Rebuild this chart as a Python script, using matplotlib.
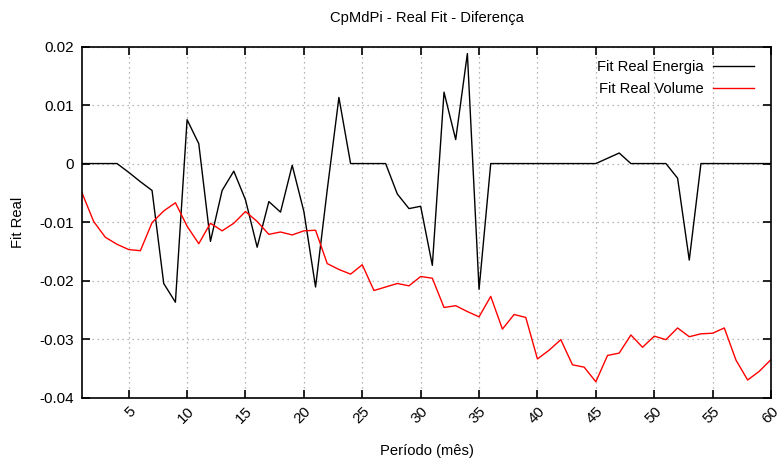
import matplotlib
matplotlib.use("Agg")
import matplotlib.pyplot as plt
import numpy as np

plt.rcParams['font.family'] = ['Liberation Sans', 'DejaVu Sans']

periodo = list(range(1, 61))
energia = [0, 0, 0, 0, -0.0015, -0.0031, -0.0046, -0.0205, -0.0237, 0.0075,
           0.0034, -0.0133, -0.0046, -0.0013, -0.0062, -0.0143, -0.0065, -0.0083, -0.0003, -0.0082,
           -0.0211, -0.0045, 0.0113, 0, 0, 0, 0, -0.0052, -0.0077, -0.0073,
           -0.0174, 0.0122, 0.0041, 0.0188, -0.0215, 0, 0, 0, 0, 0,
           0, 0, 0, 0, 0, 0.0009, 0.0018, 0, 0, 0,
           0, -0.0025, -0.0165, 0, 0, 0, 0, 0, 0, 0]
volume = [-0.0050, -0.0099, -0.0126, -0.0138, -0.0147, -0.0149, -0.0101, -0.0081, -0.0067, -0.0107,
          -0.0137, -0.0102, -0.0115, -0.0102, -0.0082, -0.0099, -0.0121, -0.0117, -0.0122, -0.0115,
          -0.0114, -0.0171, -0.0181, -0.0189, -0.0173, -0.0217, -0.0211, -0.0205, -0.0209, -0.0193,
          -0.0196, -0.0246, -0.0243, -0.0253, -0.0262, -0.0227, -0.0283, -0.0258, -0.0263, -0.0334,
          -0.0319, -0.0301, -0.0344, -0.0348, -0.0373, -0.0328, -0.0324, -0.0293, -0.0314, -0.0295,
          -0.0301, -0.0281, -0.0296, -0.0291, -0.0290, -0.0281, -0.0336, -0.0370, -0.0355, -0.0335]
xticks = list(range(5, 61, 5))
yticks = [-0.04, -0.03, -0.02, -0.01, 0, 0.01, 0.02]
ytick_labels = ["-0.04", "-0.03", "-0.02", "-0.01", "0", "0.01", "0.02"]

fig = plt.figure(figsize=(7.83, 4.65), dpi=100)
ax = fig.add_axes([0.1047, 0.145, 0.88, 0.7549])

ax.plot(periodo, energia, color='black', lw=1.0, label='Fit Real Energia')
ax.plot(periodo, volume, color='#ff0000', lw=1.0, label='Fit Real Volume')

ax.set_xlim(1, 60)
ax.set_ylim(-0.04, 0.02)
ax.set_xticks(xticks)
ax.set_xticklabels([str(t) for t in xticks], rotation=45, ha='right', rotation_mode='anchor', fontsize=11)
ax.set_yticks(yticks)
ax.set_yticklabels(ytick_labels, fontsize=11)
ax.tick_params(direction='in', top=True, right=True, length=6, width=1.2)
ax.tick_params(axis='y', pad=6)
ax.tick_params(axis='x', pad=5)
ax.grid(True, color='#a0a0a0', linestyle=(0, (1, 3)), lw=0.9)
for s in ax.spines.values():
    s.set_linewidth(1.2)

ax.set_title('CpMdPi - Real Fit - Diferença', fontsize=10.6, pad=17.5)
ax.set_xlabel('Período (mês)', fontsize=10.6, labelpad=13)
ax.set_ylabel('Fit Real', fontsize=10.6, labelpad=10)

leg = ax.legend(loc='upper right', bbox_to_anchor=(1.0, 1.009), frameon=False, markerfirst=False,
                fontsize=10.6, handlelength=2.8, handletextpad=0.6, borderaxespad=0.75,
                labelspacing=0.55)

fig.savefig('out.png', dpi=100)
